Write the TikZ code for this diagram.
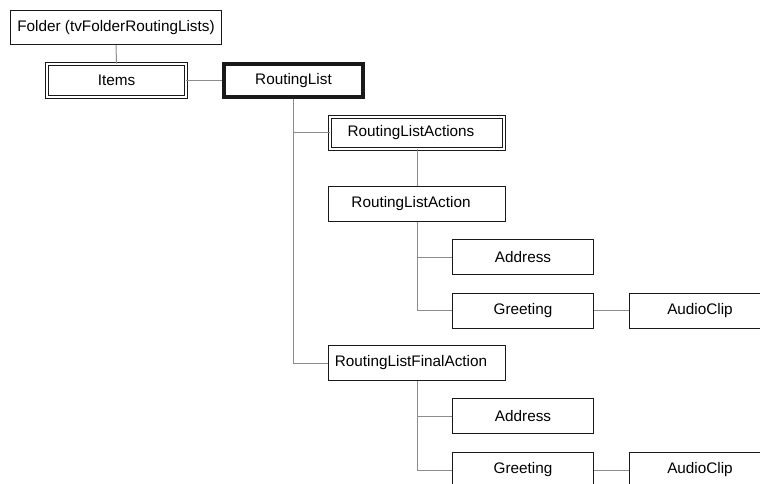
\documentclass[tikz,border=0pt]{standalone}
\usepackage{fontspec}
\setmainfont{Liberation Sans}
\usepackage{tikz}
\usetikzlibrary{positioning,calc}
\definecolor{boxclr}{RGB}{25,25,25}
\definecolor{lineclr}{RGB}{140,140,140}
\tikzset{
  elem/.style={rectangle,draw=boxclr,line width=1pt,fill=white,
               minimum height=35pt,inner sep=2pt,
               font=\fontsize{15.3}{18}\selectfont},
  coll/.style={elem,double=white,double distance=2pt,line width=0.9pt,
               minimum height=32pt},
  root/.style={elem,line width=3.5pt,minimum height=33pt},
  lft/.style={execute at begin node={\kern-12pt}},
  link/.style={draw=lineclr,line width=1pt},
}

\begin{document}
\begin{tikzpicture}[x=1pt,y=-1pt]
\clip (0,0) rectangle (760,484);
\useasboundingbox (0,0) rectangle (760,484);
\fill[white] (0,0) rectangle (760,484);

% top of the tree
\node[elem,minimum width=211pt,minimum height=34pt] (folder) at (116,27.5) {Folder (tvFolderRoutingLists)};
\node[coll,minimum width=139pt,minimum height=33pt] (items) at (116.5,80.5) {Items};
\node[root,minimum width=139pt] (rlist) at (293.5,80.5) {RoutingList};

% actions
\node[coll,lft,minimum width=174pt] (actions) at (417,133) {RoutingListActions};
\node[elem,lft,minimum width=177pt] (action) at (417,204) {RoutingListAction};
\node[elem,minimum width=141pt] (addr) at (523,257) {Address};
\node[elem,minimum width=141pt] (greet) at (523,310.5) {Greeting};
\node[elem,minimum width=141pt] (clip) at (700,310.5) {AudioClip};

% final action
\node[elem,lft,minimum width=177pt] (final) at (417,363) {RoutingListFinalAction};
\node[elem,minimum width=141pt] (faddr) at (523,416) {Address};
\node[elem,minimum width=141pt] (fgreet) at (523,470) {Greeting};
\node[elem,minimum width=141pt] (fclip) at (700,470) {AudioClip};

\path[link] (folder.south) -- (items.north);
\path[link] (items.east) -- (rlist.west);
\path[link] (rlist.south) |- (actions.west);
\path[link] (rlist.south) |- (final.west);
\path[link] (actions.south) -- (action.north);
\path[link] (action.south) |- (addr.west);
\path[link] (action.south) |- (greet.west);
\path[link] (greet.east) -- (clip.west);
\path[link] (final.south) |- (faddr.west);
\path[link] (final.south) |- (fgreet.west);
\path[link] (fgreet.east) -- (fclip.west);
\end{tikzpicture}
\end{document}
